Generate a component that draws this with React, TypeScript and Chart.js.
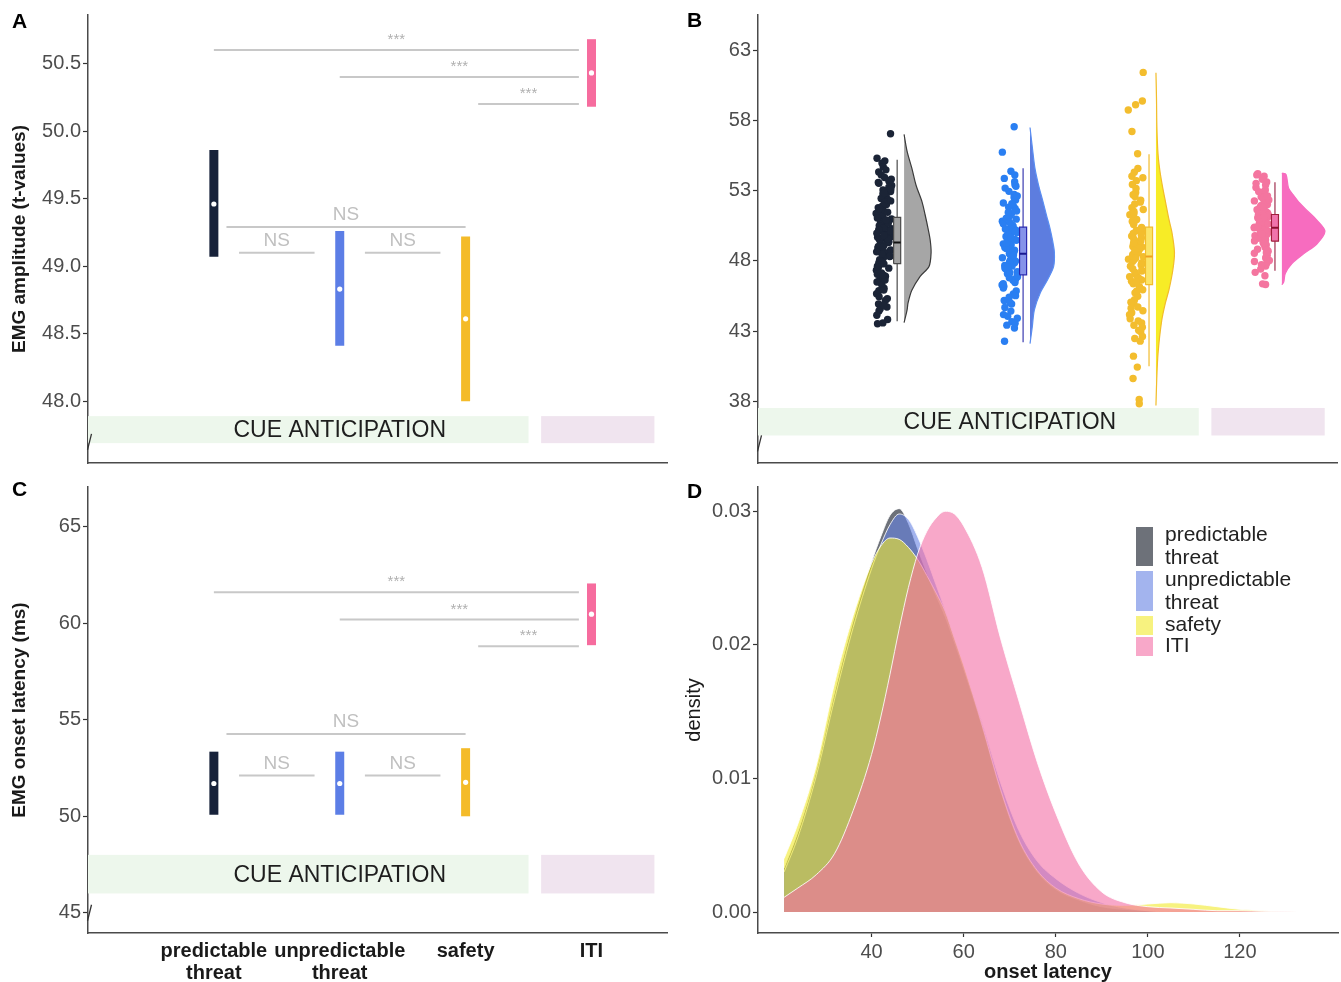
import React, { useEffect, useRef } from "react";
import { Chart, registerables } from "chart.js";

Chart.register(...registerables);

const FONT_FAMILY = '"Liberation Sans", Arial, Helvetica, sans-serif';

/* ---------------- shared categories ---------------- */
const CATEGORIES = ["predictable threat", "unpredictable threat", "safety", "ITI"];
const CATEGORY_TICK_LABELS = [["predictable", "threat"], ["unpredictable", "threat"], ["safety"], ["ITI"]];
const CATEGORY_X = [1, 2, 3, 4];
const X_RANGE = [0, 4.6];
const BAND_LABEL = "CUE ANTICIPATION";
const BAND_GREEN_X = [0, 3.5];
const BAND_PURPLE_X = [3.6, 4.5];
const BAND_LABEL_X = 2;

/* significance brackets (shared by A and C) */
const BRACKET_FROM = [1, 2, 3.1, 1.1, 1.2, 2.2];
const BRACKET_TO = [3.9, 3.9, 3.9, 3.0, 1.8, 2.8];
const BRACKET_LABELS = ["***", "***", "***", "NS", "NS", "NS"];

/* ---------------- panel A : EMG amplitude ---------------- */
const AMP_TICKS = [48.0, 48.5, 49.0, 49.5, 50.0, 50.5];
const AMP_TICK_LABELS = ["48.0", "48.5", "49.0", "49.5", "50.0", "50.5"];
const AMP_RANGE = [47.543, 50.859];
const AMP_MEAN = [49.46, 48.83, 48.61, 50.43];
const AMP_LOW = [49.07, 48.41, 48.0, 50.18];
const AMP_HIGH = [49.86, 49.26, 49.22, 50.68];
const AMP_BRACKET_Y = [50.6, 50.4, 50.2, 49.29, 49.1, 49.1];
const AMP_BAND_Y = [47.69, 47.89];
const AMP_BREAK = 47.7;

/* ---------------- panel C : EMG onset latency ---------------- */
const LAT_TICKS = [45, 50, 55, 60, 65];
const LAT_TICK_LABELS = ["45", "50", "55", "60", "65"];
const LAT_RANGE = [43.95, 67.07];
const LAT_MEAN = [51.7, 51.7, 51.76, 60.48];
const LAT_LOW = [50.08, 50.08, 50.0, 58.87];
const LAT_HIGH = [53.35, 53.35, 53.53, 62.07];
const LAT_BRACKET_Y = [61.61, 60.2, 58.82, 54.27, 52.11, 52.11];
const LAT_BAND_Y = [46.0, 48.0];
const LAT_BREAK = 45;

/* ---------------- panel B : raincloud ---------------- */
const RAIN_TICKS = [38, 43, 48, 53, 58, 63];
const RAIN_TICK_LABELS = ["38", "43", "48", "53", "58", "63"];
const RAIN_RANGE = [33.6, 65.51];
const RAIN_BAND_Y = [35.56, 37.52];
const RAIN_BREAK = 35.0;

const PRED_POINTS = [57.05, 55.31, 55.12, 54.96, 54.71, 54.48, 54.33, 54.12, 53.94, 53.81, 53.66, 53.52, 53.37, 53.24, 53.05, 52.93,
  52.77, 52.61, 52.44, 52.36, 52.18, 52.02, 51.93, 51.78, 51.62, 51.54, 51.38, 51.27, 51.13, 50.98, 50.86, 50.74, 50.63, 50.51,
  50.42, 50.28, 50.17, 50.04, 49.93, 49.85, 49.72, 49.64, 49.51, 49.43, 49.31, 49.22, 49.14, 49.02, 48.91, 48.83, 48.72, 48.61,
  48.55, 48.43, 48.31, 48.22, 48.08, 47.97, 47.86, 47.73, 47.62, 47.48, 47.33, 47.21, 47.05, 46.91, 46.77, 46.58, 46.42, 46.27,
  46.05, 45.87, 45.66, 45.44, 45.18, 44.93, 44.71, 44.43, 44.12, 43.82, 43.58, 43.52, 49.05, 49.68, 48.48, 50.36, 47.91, 48.97,
  50.12, 49.37, 53.58, 52.84, 51.46, 50.69, 49.58, 48.77, 47.55, 46.49, 45.92, 44.58, 52.27, 51.05, 50.22, 49.8, 48.35, 47.14,
  46.63, 45.31, 53.12, 51.71, 50.91, 49.97, 48.64, 47.78, 46.99, 44.85];
const UNPRED_POINTS = [57.55, 55.74, 54.38, 54.12, 53.87, 53.64, 53.42, 53.18, 52.95, 52.73, 52.51, 52.34, 52.12, 51.91, 51.73,
  51.55, 51.36, 51.18, 50.97, 50.82, 50.64, 50.47, 50.33, 50.18, 50.02, 49.88, 49.73, 49.61, 49.47, 49.35, 49.21, 49.08, 48.95,
  48.83, 48.71, 48.58, 48.46, 48.35, 48.22, 48.11, 47.98, 47.86, 47.74, 47.62, 47.49, 47.35, 47.22, 47.08, 46.94, 46.79, 46.62,
  46.45, 46.28, 46.07, 45.86, 45.64, 45.41, 45.17, 44.92, 44.68, 44.42, 44.17, 43.91, 43.66, 43.42, 43.21, 42.27, 48.52, 49.14,
  47.67, 48.03, 49.92, 46.71, 50.55, 48.88, 53.31, 52.62, 51.82, 51.04, 50.27, 49.53, 48.76, 48.17, 47.43, 46.86, 46.18, 45.52,
  44.05, 52.07, 50.73, 49.27, 48.63, 47.91, 47.15, 46.37, 45.03, 43.55, 51.45, 50.09, 49.66, 48.41, 47.56];
const SAFETY_POINTS = [61.42, 59.38, 59.12, 58.74, 57.21, 55.63, 54.58, 54.31, 54.02, 53.71, 53.44, 53.15, 52.87, 52.58, 52.31,
  52.05, 51.78, 51.52, 51.29, 51.03, 50.81, 50.59, 50.38, 50.16, 49.95, 49.76, 49.55, 49.36, 49.17, 48.98, 48.81, 48.63, 48.45,
  48.29, 48.12, 47.95, 47.78, 47.61, 47.44, 47.27, 47.09, 46.92, 46.74, 46.55, 46.37, 46.16, 45.94, 45.72, 45.48, 45.23, 44.97,
  44.71, 44.44, 44.16, 43.87, 43.58, 43.27, 42.95, 42.61, 42.28, 41.21, 40.43, 39.62, 38.13, 37.82, 48.55, 49.41, 47.86, 48.07,
  50.22, 46.63, 49.02, 53.92, 52.71, 51.66, 50.94, 50.07, 49.63, 48.89, 48.36, 47.7, 47.18, 46.46, 45.83, 45.05, 44.31, 43.72,
  43.05, 42.47, 52.18, 50.71, 49.26, 48.71, 47.34, 46.08, 44.62, 43.41, 51.37, 49.87, 48.21, 46.87];
const ITI_POINTS = [54.21, 54.12, 54.03, 53.81, 53.62, 53.41, 53.23, 53.05, 52.88, 52.71, 52.56, 52.42, 52.27, 52.14, 52.01,
  51.88, 51.76, 51.64, 51.52, 51.41, 51.31, 51.21, 51.11, 51.01, 50.92, 50.83, 50.74, 50.65, 50.57, 50.48, 50.4, 50.31, 50.23,
  50.14, 50.06, 49.97, 49.88, 49.79, 49.7, 49.61, 49.51, 49.42, 49.31, 49.2, 49.08, 48.96, 48.83, 48.69, 48.54, 48.38, 48.21,
  48.03, 47.84, 47.63, 47.41, 47.18, 46.94, 46.36, 46.31, 50.51, 50.18, 49.85, 51.07, 50.77, 49.64, 53.52, 52.93, 52.33, 51.94,
  51.58, 51.26, 50.96, 50.62, 50.35, 50.02, 49.74, 49.47, 49.13, 48.75, 48.27, 47.72, 52.62, 51.83, 51.16, 50.44, 49.92, 49.25,
  48.58, 47.95];

const BOX_Q1 = [47.8, 47.0, 46.3, 49.4];
const BOX_MEDIAN = [49.3, 48.5, 48.3, 50.35];
const BOX_Q3 = [51.1, 50.4, 50.4, 51.3];
const WHISKER_LOW = [43.7, 42.2, 40.5, 47.3];
const WHISKER_HIGH = [55.2, 54.6, 55.6, 53.6];

const PRED_VIOLIN_Y = [43.6, 44.5, 45.0, 45.9, 46.9, 47.6, 48.6, 49.5, 50.3, 51.3, 52.2, 53.4, 54.6, 55.8, 57.0];
const PRED_VIOLIN_D = [0, 0.016, 0.021, 0.041, 0.085, 0.132, 0.143, 0.138, 0.127, 0.111, 0.095, 0.063, 0.041, 0.016, 0];
const UNPRED_VIOLIN_Y = [42.1, 43.3, 44.5, 45.7, 46.7, 47.6, 48.6, 49.4, 50.3, 51.2, 52.2, 53.4, 54.6, 56.0, 57.5];
const UNPRED_VIOLIN_D = [0, 0.012, 0.023, 0.054, 0.095, 0.125, 0.129, 0.12, 0.106, 0.088, 0.069, 0.045, 0.026, 0.013, 0];
const SAFETY_VIOLIN_Y = [37.7, 39.5, 41.4, 43.7, 45.0, 46.0, 47.4, 48.6, 50.0, 51.0, 52.1, 53.2, 54.4, 55.6, 57.5, 59.5, 61.4];
const SAFETY_VIOLIN_D = [0, 0.004, 0.011, 0.03, 0.05, 0.07, 0.09, 0.098, 0.085, 0.068, 0.052, 0.036, 0.021, 0.011, 0.005, 0.003, 0];
const ITI_VIOLIN_Y = [46.3, 46.5, 47.1, 47.8, 48.5, 49.2, 50.1, 50.9, 51.5, 52.1, 52.7, 53.2, 54.15, 54.25];
const ITI_VIOLIN_D = [0, 0.01, 0.018, 0.053, 0.115, 0.185, 0.228, 0.185, 0.14, 0.095, 0.06, 0.035, 0.022, 0];

/* ---------------- panel D : density of onset latency ---------------- */
const LATENCY_GRID = [21, 24, 28, 32, 36, 40, 42, 44, 46, 48, 50, 52, 54, 56, 58, 60, 64, 68, 72, 76, 80, 85, 90, 95, 100,
  105, 110, 115, 120, 125, 130, 135];
const DENS_PRED = [0.0033, 0.006, 0.0106, 0.0165, 0.0218, 0.0262, 0.0281, 0.0297, 0.0302, 0.0291, 0.0272, 0.0254, 0.0237,
  0.0221, 0.0202, 0.0182, 0.0139, 0.0091, 0.0053, 0.003, 0.0017, 0.0009, 0.0004, 0.0002, 0.0001, 0, 0, 0, 0, 0, 0, 0];
const DENS_UNPRED = [0.003, 0.0056, 0.0102, 0.016, 0.0213, 0.0257, 0.0275, 0.029, 0.0298, 0.0294, 0.0281, 0.0264, 0.0245,
  0.0226, 0.0205, 0.0184, 0.0142, 0.0097, 0.0061, 0.0038, 0.0025, 0.0014, 0.0007, 0.0003, 0.0001, 0, 0, 0, 0, 0, 0, 0];
const DENS_SAFETY = [0.004, 0.0066, 0.011, 0.0172, 0.0222, 0.0261, 0.0274, 0.028, 0.0279, 0.0273, 0.0264, 0.0252, 0.0239,
  0.0225, 0.0205, 0.0185, 0.014, 0.0092, 0.0054, 0.0031, 0.0018, 0.001, 0.0006, 0.0005, 0.0006, 0.0007, 0.0006, 0.0004,
  0.0002, 0.0001, 0.00003, 0];
const DENS_ITI = [0.0011, 0.0018, 0.0028, 0.0044, 0.0076, 0.0118, 0.0146, 0.0178, 0.0212, 0.0243, 0.0268, 0.0285, 0.0295,
  0.03, 0.0298, 0.0289, 0.0258, 0.0205, 0.0158, 0.0112, 0.0074, 0.0036, 0.0015, 0.0007, 0.0004, 0.0003, 0.0002, 0.0001,
  0.0001, 0.00005, 0.00002, 0];
const DENS_X_TICKS = [40, 60, 80, 100, 120];
const DENS_X_TICK_LABELS = ["40", "60", "80", "100", "120"];
const DENS_Y_TICKS = [0, 0.01, 0.02, 0.03];
const DENS_Y_TICK_LABELS = ["0.00", "0.01", "0.02", "0.03"];
const DENS_X_RANGE = [15.33, 141.3];
const DENS_Y_RANGE = [-0.00157, 0.03182];
const LEGEND_LABELS = [["predictable", "threat"], ["unpredictable", "threat"], ["safety"], ["ITI"]];

/* ---------------- styles ---------------- */
const BAR_COLORS = ["#17223a", "#5c7ee6", "#f4bb29", "#f66c9e"];
const BRACKET_COLOR = "#c8c8c8";
const BAND_GREEN = "#edf7ec";
const BAND_PURPLE = "#f0e4ef";
const AXIS_COLOR = "#4a4a4a";
const TICK_LABEL_COLOR = "#4d4d4d";
const DOT_COLORS = ["#1b2436", "#2a7ff2", "#f3bd2e", "#f4759f"];
const WHISKER_COLORS = ["#4a4a4a", "#3a3ab0", "#f2bc2c", "#a03050"];
const BOX_FILL = ["#a2a2a2", "#8593ea", "#fbe468", "#f074ac"];
const BOX_STROKE = ["#4a4a4a", "#2b2bb0", "#f2bc2c", "#a0203c"];
const MEDIAN_COLORS = ["#111111", "#1a1a90", "#f0a020", "#8c1030"];
const VIOLIN_FILL = ["#a6a6a6", "#5d7ddf", "#f7ec26", "#f76cbf"];
const VIOLIN_STROKE = ["#3b3b3b", "#5a8ef2", "#f2bc2c", "#f76cbf"];
const DENS_FILL = ["rgba(12,18,32,0.6)", "rgba(102,130,227,0.6)", "rgba(242,233,42,0.6)", "rgba(243,110,165,0.6)"];
const BOX_OFFSET = 0.105;
const BOX_HALF = 0.028;
const VIOLIN_OFFSET = 0.16;
const VIOLIN_SCALE = 1.5;
const JITTER_HALF = 0.062;

/* ---------------- helpers ---------------- */
type P = { x: number; y: number };

function seg(points: P[], color: string, width: number, extra: any = {}) {
  return {
    type: "line", data: points, borderColor: color, borderWidth: width, pointRadius: 0, pointHoverRadius: 0,
    fill: false, tension: 0, borderCapStyle: "butt", ...extra,
  };
}
function dots(points: P[], color: string, radius: number) {
  return {
    type: "line", data: points, showLine: false, pointRadius: radius, pointHoverRadius: radius,
    pointBackgroundColor: color, pointBorderWidth: 0, borderColor: color, backgroundColor: color,
  };
}
function ordered(ds: any[]) {
  return ds.map((d, i) => ({ ...d, order: -i }));
}
// deterministic horizontal jitter (display only, not data)
function jitter(i: number, g: number) {
  const s = Math.sin((i + 1 + g * 131) * 12.9898) * 43758.5453;
  const u = s - Math.floor(s);
  return (u - 0.5) * 2 * JITTER_HALF;
}

function yScale(range: number[], ticks: number[], labels: string[], title?: string, bold = true, titlePad = 8) {
  return {
    type: "linear", position: "left", min: range[0], max: range[1],
    afterBuildTicks: (s: any) => { s.ticks = ticks.map((v) => ({ value: v })); },
    afterFit: (s: any) => { s.width = 88; },
    ticks: {
      autoSkip: false, callback: (_v: any, i: number) => labels[i],
      font: { family: FONT_FAMILY, size: 20, lineHeight: 1 }, color: TICK_LABEL_COLOR, padding: 2,
    },
    grid: { display: true, drawOnChartArea: false, drawTicks: true, tickLength: 5, tickColor: "#333", tickWidth: 1.2, color: "#333" },
    border: { display: true, color: AXIS_COLOR, width: 1.5 },
    title: title
      ? { display: true, text: title, color: "#1a1a1a", font: { family: FONT_FAMILY, size: bold ? 19 : 20, weight: bold ? "bold" : "normal", lineHeight: 1.2 }, padding: { top: titlePad, bottom: 0 } }
      : { display: false },
  };
}

function xCatScale(showLabels: boolean, height: number) {
  return {
    type: "linear", position: "bottom", min: X_RANGE[0], max: X_RANGE[1],
    afterBuildTicks: (s: any) => { s.ticks = CATEGORY_X.map((v) => ({ value: v })); },
    afterFit: (s: any) => { s.height = height; },
    ticks: {
      display: showLabels, autoSkip: false, maxRotation: 0, minRotation: 0,
      callback: (_v: any, i: number) => CATEGORY_TICK_LABELS[i],
      font: { family: FONT_FAMILY, size: 20, weight: "bold", lineHeight: 1.1 }, color: "#1a1a1a", padding: 7,
    },
    grid: { display: false, drawTicks: false },
    border: { display: true, color: AXIS_COLOR, width: 1.5 },
  };
}

type Decor = {
  letter: string; letterX: number; letterY: number;
  bandY?: number[];
  bracketY?: number[];
  breakY?: number;
  legend?: boolean;
};

function decorPlugin(d: Decor) {
  return {
    id: "decor",
    beforeDatasetsDraw(chart: any) {
      const { ctx } = chart;
      const x = chart.scales.x, y = chart.scales.y;
      if (d.bandY) {
        ctx.save();
        const yt = y.getPixelForValue(d.bandY[1]);
        const yb = y.getPixelForValue(d.bandY[0]);
        const g0 = x.getPixelForValue(BAND_GREEN_X[0]), g1 = x.getPixelForValue(BAND_GREEN_X[1]);
        const p0 = x.getPixelForValue(BAND_PURPLE_X[0]), p1 = x.getPixelForValue(BAND_PURPLE_X[1]);
        ctx.fillStyle = BAND_GREEN;
        ctx.fillRect(g0, yt, g1 - g0, yb - yt);
        ctx.fillStyle = BAND_PURPLE;
        ctx.fillRect(p0, yt, p1 - p0, yb - yt);
        ctx.fillStyle = "#1e1e1e";
        ctx.font = `23px ${FONT_FAMILY}`;
        ctx.textAlign = "center";
        ctx.textBaseline = "middle";
        ctx.fillText(BAND_LABEL, x.getPixelForValue(BAND_LABEL_X), (yt + yb) / 2 + 1);
        ctx.restore();
      }
    },
    afterDatasetsDraw(chart: any) {
      const { ctx } = chart;
      const x = chart.scales.x, y = chart.scales.y;
      ctx.save();
      if (d.bracketY) {
        ctx.textAlign = "center";
        BRACKET_LABELS.forEach((lab, i) => {
          const px = x.getPixelForValue((BRACKET_FROM[i] + BRACKET_TO[i]) / 2);
          const py = y.getPixelForValue(d.bracketY![i]);
          if (lab === "NS") {
            ctx.font = `19px ${FONT_FAMILY}`;
            ctx.fillStyle = "#c0c0c0";
            ctx.textBaseline = "middle";
            ctx.fillText(lab, px, py - 12);
          } else {
            ctx.font = `15px ${FONT_FAMILY}`;
            ctx.fillStyle = "#b0b0b0";
            ctx.textBaseline = "alphabetic";
            ctx.fillText(lab, px, py - 6);
          }
        });
      }
      if (d.breakY !== undefined) {
        const ax = x.getPixelForValue(X_RANGE[0]);
        const by = y.getPixelForValue(d.breakY);
        ctx.strokeStyle = "#333";
        ctx.lineWidth = 1.3;
        ctx.beginPath();
        ctx.moveTo(ax - 0.5, by + 8);
        ctx.lineTo(ax + 3.5, by - 8);
        ctx.stroke();
      }
      if (d.legend) {
        const rows = [[52, 91, 60, 83], [96, 136, 105, 128], [141, 160, 150], [162, 181, 171]];
        ctx.font = `21px ${FONT_FAMILY}`;
        ctx.textAlign = "left";
        ctx.textBaseline = "middle";
        rows.forEach((r, g) => {
          ctx.fillStyle = DENS_FILL[g];
          ctx.fillRect(466, r[0], 17, r[1] - r[0]);
          ctx.fillStyle = "#222";
          LEGEND_LABELS[g].forEach((t, k) => ctx.fillText(t, 495, r[2 + k]));
        });
      }
      ctx.font = `bold 21px ${FONT_FAMILY}`;
      ctx.fillStyle = "#000";
      ctx.textAlign = "left";
      ctx.textBaseline = "middle";
      ctx.fillText(d.letter, d.letterX, d.letterY);
      ctx.restore();
    },
  };
}

const baseOptions = (padding: any, scales: any) => ({
  responsive: false,
  animation: false,
  devicePixelRatio: 1,
  events: [],
  layout: { padding },
  plugins: { legend: { display: false }, tooltip: { enabled: false } },
  scales,
});

/* ---------------- chart configs ---------------- */
function summaryConfig(opts: {
  mean: number[]; low: number[]; high: number[]; bracketY: number[]; range: number[]; ticks: number[];
  tickLabels: string[]; title: string; bandY: number[]; breakY: number; letter: string; letterX: number; letterY: number;
  showX: boolean; xHeight: number; padTop: number;
}) {
  const ds: any[] = [];
  BRACKET_FROM.forEach((f, i) => {
    ds.push(seg([{ x: f, y: opts.bracketY[i] }, { x: BRACKET_TO[i], y: opts.bracketY[i] }], BRACKET_COLOR, 2));
  });
  CATEGORY_X.forEach((c, i) => {
    ds.push(seg([{ x: c, y: opts.low[i] }, { x: c, y: opts.high[i] }], BAR_COLORS[i], 9));
    ds.push(dots([{ x: c, y: opts.mean[i] }], "#ffffff", 2.6));
  });
  return {
    type: "line",
    data: { datasets: ordered(ds) },
    options: baseOptions({ left: 0, right: 3, top: opts.padTop, bottom: 0 }, {
      x: xCatScale(opts.showX, opts.xHeight),
      y: yScale(opts.range, opts.ticks, opts.tickLabels, opts.title, true, 8),
    }),
    plugins: [decorPlugin({ letter: opts.letter, letterX: opts.letterX, letterY: opts.letterY, bandY: opts.bandY, bracketY: opts.bracketY, breakY: opts.breakY })],
  };
}

function rainConfig() {
  const points = [PRED_POINTS, UNPRED_POINTS, SAFETY_POINTS, ITI_POINTS];
  const vy = [PRED_VIOLIN_Y, UNPRED_VIOLIN_Y, SAFETY_VIOLIN_Y, ITI_VIOLIN_Y];
  const vd = [PRED_VIOLIN_D, UNPRED_VIOLIN_D, SAFETY_VIOLIN_D, ITI_VIOLIN_D];
  const ds: any[] = [];
  CATEGORY_X.forEach((c, g) => {
    ds.push(dots(points[g].map((v, i) => ({ x: c + jitter(i, g), y: v })), DOT_COLORS[g], 3.7));
    const bx = c + BOX_OFFSET;
    ds.push(seg([{ x: bx, y: WHISKER_LOW[g] }, { x: bx, y: WHISKER_HIGH[g] }], WHISKER_COLORS[g], 1.2));
    ds.push(seg([
      { x: bx - BOX_HALF, y: BOX_Q1[g] }, { x: bx + BOX_HALF, y: BOX_Q1[g] }, { x: bx + BOX_HALF, y: BOX_Q3[g] },
      { x: bx - BOX_HALF, y: BOX_Q3[g] }, { x: bx - BOX_HALF, y: BOX_Q1[g] },
    ], BOX_STROKE[g], 1.2, { fill: "shape", backgroundColor: BOX_FILL[g] }));
    ds.push(seg([{ x: bx - BOX_HALF, y: BOX_MEDIAN[g] }, { x: bx + BOX_HALF, y: BOX_MEDIAN[g] }], MEDIAN_COLORS[g], 2));
    const vb = c + VIOLIN_OFFSET;
    ds.push(seg(vy[g].map((yv, i) => ({ x: vb + vd[g][i] * VIOLIN_SCALE, y: yv })), VIOLIN_STROKE[g], 1.2,
      { fill: "shape", backgroundColor: VIOLIN_FILL[g], tension: 0.3 }));
  });
  return {
    type: "line",
    data: { datasets: ordered(ds) },
    options: baseOptions({ left: 0, right: 3, top: 15, bottom: 0 }, {
      x: xCatScale(false, 12),
      y: yScale(RAIN_RANGE, RAIN_TICKS, RAIN_TICK_LABELS),
    }),
    plugins: [decorPlugin({ letter: "B", letterX: 17, letterY: 21, bandY: RAIN_BAND_Y, breakY: RAIN_BREAK })],
  };
}

function densityConfig() {
  const dens = [DENS_PRED, DENS_UNPRED, DENS_SAFETY, DENS_ITI];
  const ds = dens.map((d, g) => seg(LATENCY_GRID.map((xv, i) => ({ x: xv, y: d[i] })), "rgba(255,255,255,0.85)", 1,
    { fill: "origin", backgroundColor: DENS_FILL[g], cubicInterpolationMode: "monotone", label: CATEGORIES[g] }));
  return {
    type: "line",
    data: { datasets: ordered(ds) },
    options: baseOptions({ left: 0, right: 3, top: 10, bottom: 0 }, {
      x: {
        type: "linear", position: "bottom", min: DENS_X_RANGE[0], max: DENS_X_RANGE[1],
        afterBuildTicks: (s: any) => { s.ticks = DENS_X_TICKS.map((v) => ({ value: v })); },
        afterFit: (s: any) => { s.height = 49; },
        ticks: {
          autoSkip: false, maxRotation: 0, minRotation: 0, callback: (_v: any, i: number) => DENS_X_TICK_LABELS[i],
          font: { family: FONT_FAMILY, size: 20, lineHeight: 1 }, color: TICK_LABEL_COLOR, padding: 5,
        },
        grid: { display: true, drawOnChartArea: false, drawTicks: true, tickLength: 4, tickColor: "#333", tickWidth: 1.2 },
        border: { display: true, color: AXIS_COLOR, width: 1.5 },
        title: { display: true, text: "onset latency", color: "#1a1a1a", font: { family: FONT_FAMILY, size: 20, weight: "bold", lineHeight: 1 }, padding: { top: 0, bottom: 0 } },
      },
      y: yScale(DENS_Y_RANGE, DENS_Y_TICKS, DENS_Y_TICK_LABELS, "density", false, 12),
    }),
    plugins: [decorPlugin({ letter: "D", letterX: 17, letterY: 17, legend: true })],
  };
}

/* ---------------- React ---------------- */
function Panel(props: { left: number; top: number; width: number; height: number; make: () => any }) {
  const ref = useRef<HTMLCanvasElement>(null);
  useEffect(() => {
    const chart = new Chart(ref.current as HTMLCanvasElement, props.make());
    return () => chart.destroy();
  }, []);
  return (
    <canvas
      ref={ref}
      width={props.width}
      height={props.height}
      style={{ position: "absolute", left: props.left, top: props.top, width: props.width, height: props.height }}
    />
  );
}

export default function App() {
  return (
    <div style={{ position: "absolute", left: 0, top: 0, width: 1341, height: 982, overflow: "hidden", background: "#ffffff" }}>
      <Panel left={0} top={0} width={670} height={475} make={() => summaryConfig({
        mean: AMP_MEAN, low: AMP_LOW, high: AMP_HIGH, bracketY: AMP_BRACKET_Y, range: AMP_RANGE, ticks: AMP_TICKS,
        tickLabels: AMP_TICK_LABELS, title: "EMG amplitude (t-values)", bandY: AMP_BAND_Y, breakY: AMP_BREAK,
        letter: "A", letterX: 12, letterY: 22, showX: false, xHeight: 12, padTop: 15,
      })} />
      <Panel left={670} top={0} width={671} height={475} make={rainConfig} />
      <Panel left={0} top={475} width={670} height={507} make={() => summaryConfig({
        mean: LAT_MEAN, low: LAT_LOW, high: LAT_HIGH, bracketY: LAT_BRACKET_Y, range: LAT_RANGE, ticks: LAT_TICKS,
        tickLabels: LAT_TICK_LABELS, title: "EMG onset latency (ms)", bandY: LAT_BAND_Y, breakY: LAT_BREAK,
        letter: "C", letterX: 12, letterY: 15, showX: true, xHeight: 49, padTop: 10,
      })} />
      <Panel left={670} top={475} width={671} height={507} make={densityConfig} />
    </div>
  );
}
